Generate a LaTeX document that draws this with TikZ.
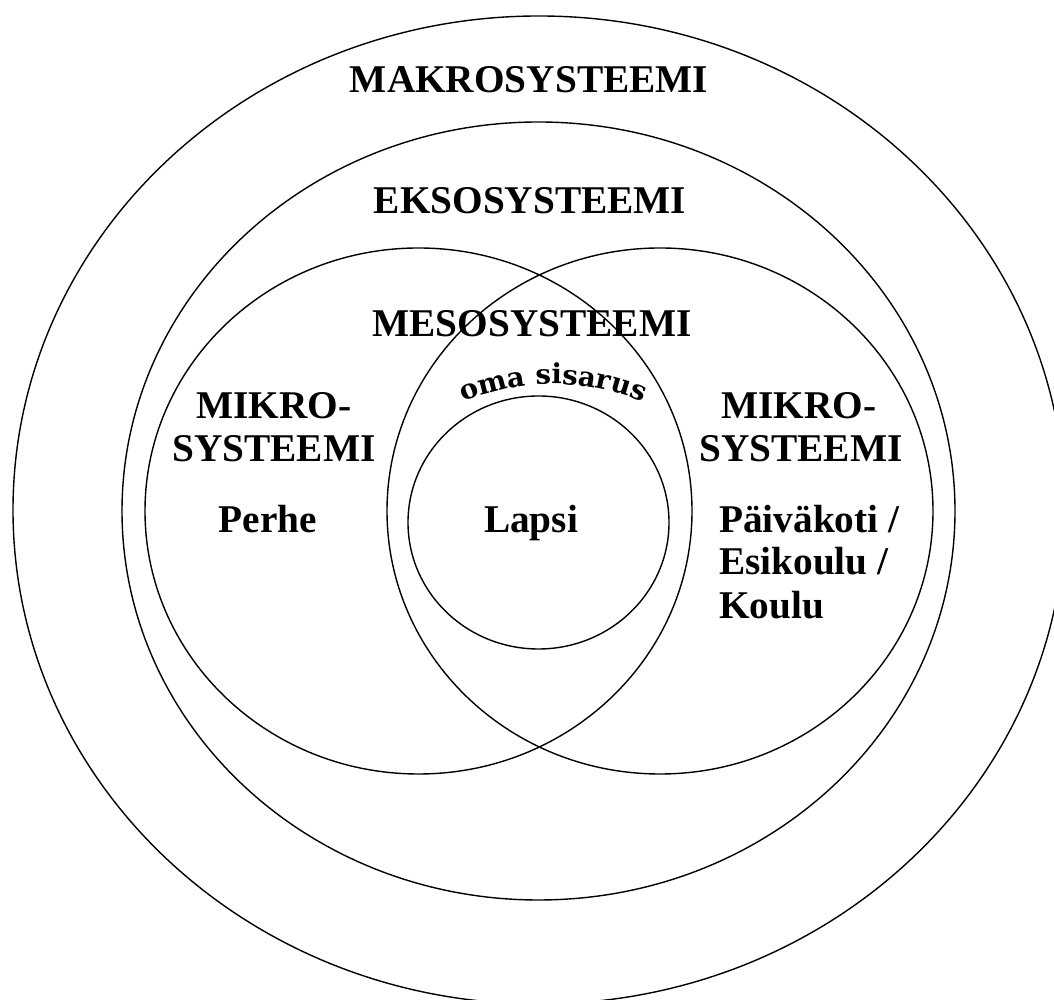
\documentclass[tikz,border=0pt]{standalone}
\usepackage{fontspec}
\setmainfont{Liberation Serif}
\newfontfamily\omafont{DejaVu Serif}
\usetikzlibrary{decorations.text}
\begin{document}
\begin{tikzpicture}[x=1pt,y=1pt,
  ring/.style={draw=black, line width=1.4pt},
  lbl/.style={font=\fontsize{39.3}{43}\selectfont\bfseries, inner sep=0pt, anchor=base}]
\useasboundingbox (0,0) rectangle (1054,1000);
\fill[white] (0,0) rectangle (1054,1000);
\clip (0,0) rectangle (1054,1000);
% rings
\draw[ring] (539,490) ellipse [x radius=526pt, y radius=494pt];
\draw[ring] (538.5,489) ellipse [x radius=416.5pt, y radius=389pt];
\draw[ring] (418.5,489) ellipse [x radius=273.5pt, y radius=263pt];
\draw[ring] (660,489) ellipse [x radius=273pt, y radius=263pt];
\draw[ring] (538.5,477.5) ellipse [x radius=130.5pt, y radius=126.5pt];
% labels
\node[lbl] (makro) at (529,907) {MAKROSYSTEEMI};
\node[lbl] (ekso) at (530,786) {EKSOSYSTEEMI};
\node[lbl] (meso) at (532,663) {MESOSYSTEEMI};
\node[lbl] (mikroL1) at (274,581) {MIKRO-};
\node[lbl] (mikroL2) at (274,538) {SYSTEEMI};
\node[lbl] (perhe) at (268,467) {Perhe};
\node[lbl] (mikroR1) at (799,581) {MIKRO-};
\node[lbl] (mikroR2) at (801,538) {SYSTEEMI};
\node[lbl, anchor=base west] (paiva) at (719,467) {Päiväkoti /};
\node[lbl, anchor=base west] (esik) at (719,425) {Esikoulu /};
\node[lbl, anchor=base west] (koulu) at (719,381) {Koulu};
\node[lbl] (lapsi) at (531,467) {Lapsi};
% curved text
\path[decorate, decoration={text along path, text align=center,
  text={|\omafont\bfseries\fontsize{27.5}{30}\selectfont|oma sisarus}}]
  (553,386) ++(130:230) arc[start angle=130, end angle=50, radius=230];
\end{tikzpicture}
\end{document}
